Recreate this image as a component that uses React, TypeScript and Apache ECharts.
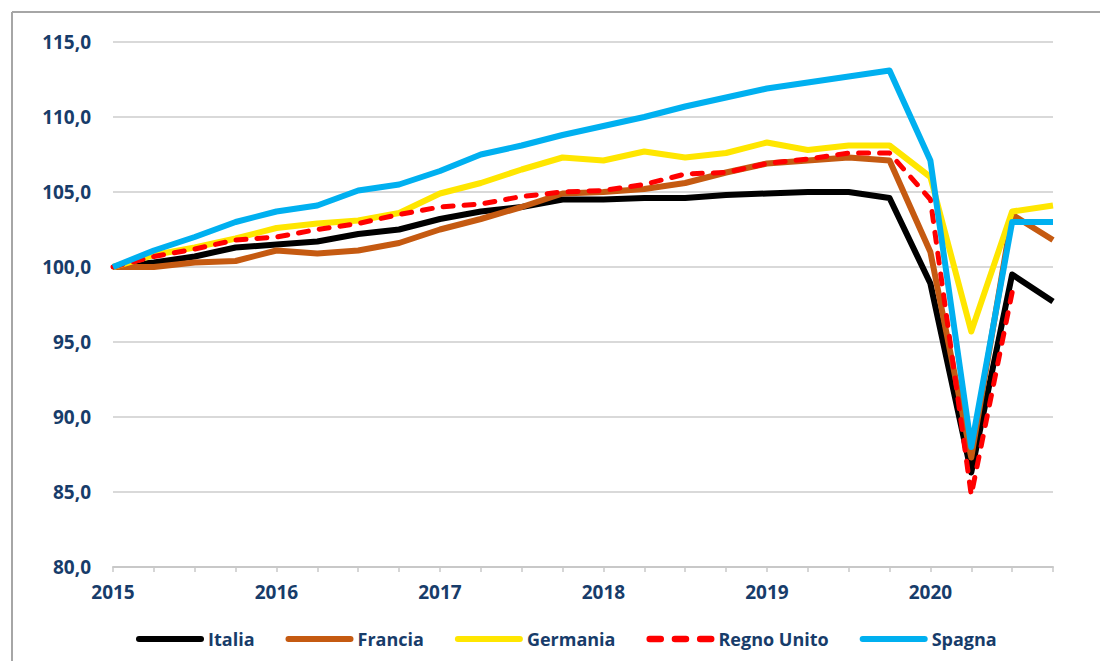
import React, { useEffect, useRef } from "react";
import * as echarts from "echarts";

const quarters = [
  "2015 T1", "2015 T2", "2015 T3", "2015 T4",
  "2016 T1", "2016 T2", "2016 T3", "2016 T4",
  "2017 T1", "2017 T2", "2017 T3", "2017 T4",
  "2018 T1", "2018 T2", "2018 T3", "2018 T4",
  "2019 T1", "2019 T2", "2019 T3", "2019 T4",
  "2020 T1", "2020 T2", "2020 T3", "2020 T4",
];

const italia = [100, 100.3, 100.7, 101.3, 101.5, 101.7, 102.2, 102.5, 103.2, 103.7, 104.0, 104.5, 104.5, 104.6, 104.6, 104.8, 104.9, 105.0, 105.0, 104.6, 98.9, 86.3, 99.5, 97.7];
const francia = [100, 100.0, 100.3, 100.4, 101.1, 100.9, 101.1, 101.6, 102.5, 103.2, 104.0, 104.9, 105.0, 105.2, 105.6, 106.3, 106.9, 107.1, 107.3, 107.1, 101.0, 87.3, 103.5, 101.8];
const germania = [100, 100.8, 101.3, 101.9, 102.6, 102.9, 103.1, 103.6, 104.9, 105.6, 106.5, 107.3, 107.1, 107.7, 107.3, 107.6, 108.3, 107.8, 108.1, 108.1, 106.0, 95.7, 103.7, 104.1];
const regnoUnito = [100, 100.7, 101.2, 101.8, 102.0, 102.5, 102.9, 103.5, 104.0, 104.2, 104.7, 105.0, 105.1, 105.5, 106.2, 106.3, 106.9, 107.2, 107.6, 107.6, 104.5, 84.8, 98.3, null];
const spagna = [100, 101.1, 102.0, 103.0, 103.7, 104.1, 105.1, 105.5, 106.4, 107.5, 108.1, 108.8, 109.4, 110.0, 110.7, 111.3, 111.9, 112.3, 112.7, 113.1, 107.1, 88.0, 103.0, 103.0];

const seriesNames = ["Italia", "Francia", "Germania", "Regno Unito", "Spagna"];
const seriesColors = ["#000000", "#C55A11", "#FFE600", "#FF0000", "#00B0F0"];

const TEXT = "#173C6A";
const FONT = "'Open Sans', 'Noto Sans', sans-serif";

const SOLID_ICON = "path://M3,0 H65 A3,3 0 0 1 65,6 H3 A3,3 0 0 1 3,0 Z";
const DASH_ICON =
  "path://M7,0 H17 A3,3 0 0 1 17,6 H7 A3,3 0 0 1 7,0 Z M30,0 H40 A3,3 0 0 1 40,6 H30 A3,3 0 0 1 30,0 Z M53,0 H63 A3,3 0 0 1 63,6 H53 A3,3 0 0 1 53,0 Z";

export default function App() {
  const ref = useRef<HTMLDivElement>(null);
  useEffect(() => {
    const chart = echarts.init(ref.current!, null, { renderer: "svg" });
    const datas = [italia, francia, germania, regnoUnito, spagna];
    chart.setOption({
      animation: false,
      backgroundColor: "#ffffff",
      grid: { left: 113, right: 47, top: 42, bottom: 94, containLabel: false },
      graphic: [
        { type: "line", shape: { x1: 12, y1: 12, x2: 1100, y2: 12 }, style: { stroke: "#a6a6a6", lineWidth: 2 } },
        { type: "line", shape: { x1: 12, y1: 12, x2: 12, y2: 661 }, style: { stroke: "#a6a6a6", lineWidth: 2 } },
      ],
      legend: {
        left: 136,
        top: 630,
        padding: 0,
        itemWidth: 68,
        itemHeight: 7,
        itemGap: 31,
        textStyle: { color: TEXT, fontFamily: FONT, fontWeight: "bold", fontSize: 18, padding: [0, 0, 0, -1] },
        data: seriesNames.map((name, i) => ({
          name,
          icon: name === "Regno Unito" ? DASH_ICON : SOLID_ICON,
          itemStyle: { color: seriesColors[i] },
        })),
      },
      xAxis: {
        type: "category",
        boundaryGap: false,
        data: quarters,
        axisLine: { lineStyle: { color: "#c8c8c8", width: 2 } },
        axisTick: { show: true, interval: 0, length: 5, lineStyle: { color: "#c8c8c8", width: 1.5 } },
        axisLabel: {
          interval: 3,
          margin: 15,
          color: TEXT,
          fontFamily: FONT,
          fontWeight: "bold",
          fontSize: 19,
          formatter: (v: string) => v.slice(0, 4),
        },
        splitLine: { show: false },
      },
      yAxis: {
        type: "value",
        min: 80,
        max: 115,
        interval: 5,
        axisLine: { show: false },
        axisTick: { show: false },
        axisLabel: {
          margin: 22,
          color: TEXT,
          fontFamily: FONT,
          fontWeight: "bold",
          fontSize: 19,
          formatter: (v: number) => v.toFixed(1).replace(".", ","),
        },
        splitLine: { lineStyle: { color: "#d9d9d9", width: 2 } },
      },
      series: seriesNames.map((name, i) => ({
        name,
        type: "line",
        data: datas[i],
        symbol: "none",
        showSymbol: false,
        connectNulls: false,
        z: 2 + i,
        itemStyle: { color: seriesColors[i] },
        lineStyle: {
          color: seriesColors[i],
          width: name === "Regno Unito" ? 5 : 6,
          type: name === "Regno Unito" ? [10, 11] : "solid",
          cap: name === "Regno Unito" ? "round" : "butt",
          join: "round",
        },
      })),
    });
    return () => chart.dispose();
  }, []);
  return (
    <div
      ref={ref}
      style={{ position: "fixed", left: 0, top: 0, width: 1100, height: 661 }}
    />
  );
}
